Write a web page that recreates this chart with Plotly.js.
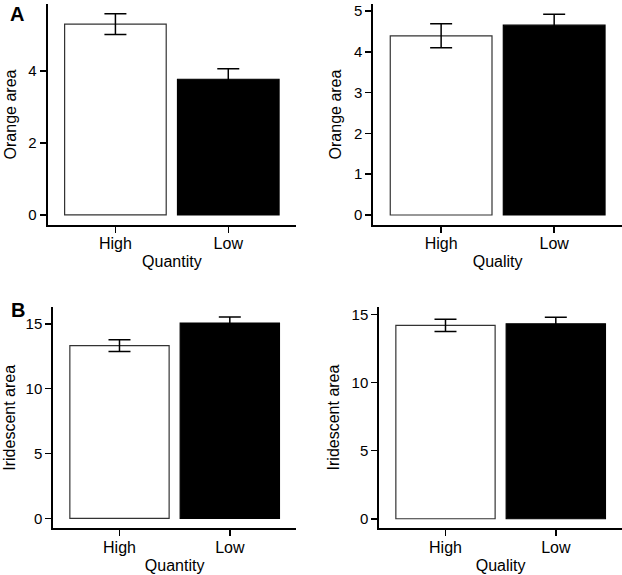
<!DOCTYPE html>
<html>
<head>
<meta charset="utf-8">
<script src="https://cdn.plot.ly/plotly-3.0.1.min.js"></script>
<style>html,body{margin:0;padding:0;background:#fff;}#chart{width:622px;height:575px;}</style>
</head>
<body>
<div id="chart"></div>
<script>
const categories = ["High", "Low"];
const orangeQuantity = [5.30, 3.77];
const orangeQuantityErr = [0.29, 0.29];
const orangeQuality = [4.39, 4.65];
const orangeQualityErr = [0.295, 0.27];
const iridQuantity = [13.31, 15.06];
const iridQuantityErr = [0.45, 0.46];
const iridQuality = [14.19, 14.31];
const iridQualityErr = [0.45, 0.48];

const W = 622, H = 575;
const FONT = '"Liberation Sans", Arial, Helvetica, sans-serif';

function barTrace(vals, errs, xa, ya) {
  return {
    type: 'bar', x: categories, y: vals, xaxis: xa, yaxis: ya, width: 0.9,
    marker: {color: ['#ffffff', '#000000'], line: {color: ['#333333', '#000000'], width: 1.2}},
    error_y: {type: 'data', array: errs, visible: true, color: '#000', thickness: 1.5, width: 11},
    showlegend: false, hoverinfo: 'skip'
  };
}

function xAx(left, right, title) {
  return {
    domain: [left / W, right / W], type: 'category', range: [-0.6, 1.6],
    showline: true, linecolor: '#000', linewidth: 2, ticks: 'outside', ticklen: 6,
    tickwidth: 1.5, tickcolor: '#000', showgrid: false, zeroline: false,
    tickfont: {family: FONT, size: 16, color: '#000'}, ticklabelstandoff: -3,
    title: {text: title, font: {family: FONT, size: 16, color: '#000'}, standoff: 5},
    fixedrange: true
  };
}
function yAx(top, bottom, range, dtick, title, anchor, standoff) {
  return {
    domain: [1 - bottom / H, 1 - top / H], range: range, dtick: dtick, tick0: 0,
    showline: true, linecolor: '#000', linewidth: 2, ticks: 'outside', ticklen: 6,
    tickwidth: 1.5, tickcolor: '#000', showgrid: false, zeroline: false,
    tickfont: {family: FONT, size: 15, color: '#000'},
    title: {text: title, font: {family: FONT, size: 16, color: '#000'}, standoff: standoff},
    anchor: anchor, fixedrange: true
  };
}

const data = [
  barTrace(orangeQuantity, orangeQuantityErr, 'x', 'y'),
  barTrace(orangeQuality, orangeQualityErr, 'x2', 'y2'),
  barTrace(iridQuantity, iridQuantityErr, 'x3', 'y3'),
  barTrace(iridQuality, iridQualityErr, 'x4', 'y4')
];

const layout = {
  width: W, height: H, margin: {l: 0, r: 0, t: 0, b: 0},
  paper_bgcolor: '#fff', plot_bgcolor: '#fff',
  font: {family: FONT, color: '#000'},
  xaxis: Object.assign(xAx(47.7, 296, 'Quantity'), {anchor: 'y'}),
  yaxis: yAx(4, 225, [-0.28, 5.86], 2, 'Orange area', 'x', 8),
  xaxis2: Object.assign(xAx(373.3, 622, 'Quality'), {anchor: 'y2'}),
  yaxis2: yAx(4, 225, [-0.245, 5.17], 1, 'Orange area', 'x2', 8),
  xaxis3: Object.assign(xAx(53.3, 296, 'Quantity'), {anchor: 'y3'}),
  yaxis3: yAx(307.3, 528.3, [-0.77, 16.27], 5, 'Iridescent area', 'x3', 6),
  xaxis4: Object.assign(xAx(379.3, 622, 'Quality'), {anchor: 'y4'}),
  yaxis4: yAx(306.7, 528.3, [-0.7, 15.56], 5, 'Iridescent area', 'x4', 8),
  annotations: [
    {text: '<b>A</b>', x: 8 / W, y: 1 - 14 / H, xref: 'paper', yref: 'paper', xanchor: 'left', yanchor: 'middle', showarrow: false, font: {family: FONT, size: 20, color: '#000'}},
    {text: '<b>B</b>', x: 9 / W, y: 1 - 310 / H, xref: 'paper', yref: 'paper', xanchor: 'left', yanchor: 'middle', showarrow: false, font: {family: FONT, size: 20, color: '#000'}}
  ],
  bargap: 0.1
};

Plotly.newPlot('chart', data, layout, {staticPlot: true, displayModeBar: false});
</script>
</body>
</html>
